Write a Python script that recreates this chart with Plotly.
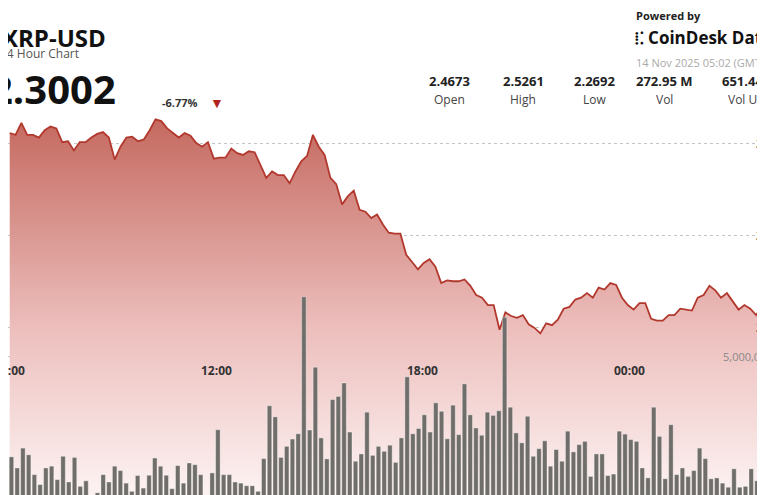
import plotly.graph_objects as go
import pandas as pd

prices = [2.512,2.510,2.523,2.510,2.510,2.507,2.515,2.519,2.517,2.502,2.503,2.493,2.502,2.502,2.507,2.511,2.513,2.507,2.483,2.497,
2.507,2.508,2.503,2.505,2.515,2.527,2.525,2.517,2.512,2.507,2.512,2.509,2.501,2.497,2.502,2.484,2.485,2.485,2.495,2.490,
2.488,2.492,2.491,2.477,2.463,2.470,2.466,2.466,2.457,2.470,2.481,2.487,2.510,2.497,2.488,2.463,2.456,2.434,2.443,2.449,
2.428,2.426,2.419,2.423,2.412,2.403,2.402,2.402,2.379,2.371,2.363,2.370,2.374,2.366,2.348,2.351,2.350,2.350,2.352,2.345,
2.335,2.332,2.324,2.324,2.297,2.316,2.312,2.310,2.313,2.303,2.299,2.293,2.304,2.302,2.308,2.320,2.322,2.330,2.332,2.337,
2.332,2.343,2.341,2.348,2.346,2.332,2.324,2.319,2.326,2.326,2.309,2.307,2.307,2.313,2.313,2.320,2.319,2.318,2.332,2.335,
2.345,2.340,2.332,2.337,2.328,2.319,2.324,2.320,2.313,2.323,2.312,2.313]

volumes_m = [1.58,1.20,1.88,1.65,0.97,0.63,1.20,1.26,0.80,1.60,0.72,1.56,0.57,0.76,0.23,0.35,0.97,0.72,1.26,1.11,
0.68,0.40,0.94,0.51,0.95,1.54,1.26,0.95,0.49,1.28,0.68,1.37,1.31,0.97,0.17,1.03,2.51,0.97,0.97,0.72,
0.68,0.59,0.59,0.40,1.52,3.33,2.95,1.56,1.94,2.19,2.37,7.06,2.50,4.65,2.23,1.51,3.54,3.65,4.11,2.43,
1.43,1.68,3.11,1.63,1.94,1.77,1.98,1.39,2.23,4.32,2.37,2.55,3.02,2.43,3.43,3.14,2.20,3.35,2.34,4.08,
3.02,2.57,2.32,3.11,3.00,3.16,6.36,3.28,2.40,2.06,2.97,1.60,1.86,2.13,1.26,1.83,1.43,2.46,1.75,2.00,
2.11,0.91,1.68,1.68,0.94,0.99,2.46,2.36,2.17,2.11,1.20,0.86,3.28,2.28,0.83,2.68,0.97,1.20,0.91,1.11,
1.88,1.52,0.83,0.86,0.68,0.54,1.17,0.54,0.57,1.17,0.76,0.68,0.54,1.03]
volumes = [v * 1e6 for v in volumes_m]

price_times = pd.date_range("2025-11-13 06:00", "2025-11-14 04:12", periods=len(prices))
vol_times = pd.date_range("2025-11-13 06:03", periods=len(volumes), freq="10min")

price_ticks = [2.3, 2.4, 2.5]
price_tick_text = ["2.30", "2.40", "2.50"]
vol_ticks = [5e6]
vol_tick_text = ["5,000,000"]
time_labels = ["06:00", "12:00", "18:00", "00:00"]
time_label_pos = ["2025-11-13 06:00", "2025-11-13 12:00", "2025-11-13 18:00", "2025-11-14 00:00"]
stat_values = ["2.4673", "2.5261", "2.2692", "272.95 M", "651.44 M"]
stat_labels = ["Open", "High", "Low", "Vol", "Vol USD"]
stat_x = [442, 515, 586, 656, 742]

fig = go.Figure()
fig.add_trace(go.Scatter(
    x=price_times, y=prices, mode="lines", line=dict(color="#b2382e", width=1.8),
    fill="tozeroy",
    fillgradient=dict(type="vertical", start=2.11, stop=2.53,
                      colorscale=[[0, "rgb(253,244,244)"], [0.45, "rgb(236,190,188)"], [1, "rgb(196,104,94)"]]),
    yaxis="y", hoverinfo="skip"))
fig.add_trace(go.Bar(
    x=vol_times, y=volumes, marker=dict(color="rgb(112,110,106)", line=dict(color="rgba(255,255,255,0.6)", width=0.6)),
    yaxis="y2", hoverinfo="skip"))

grid = dict(showgrid=True, gridcolor="rgba(150,150,150,0.55)", griddash="dot", gridwidth=1)
fig.update_layout(
    width=765, height=495, margin=dict(l=0, r=0, t=0, b=0, autoexpand=False),
    paper_bgcolor="white", plot_bgcolor="white", showlegend=False, bargap=0.22,
    font=dict(family="Open Sans", color="#222"),
    xaxis=dict(range=["2025-11-13 05:57", "2025-11-14 04:11"], showticklabels=False, showgrid=False,
               zeroline=False, domain=[0, 1]),
    yaxis=dict(range=[2.1077, 2.6486], tickvals=price_ticks, showticklabels=False, zeroline=False, **grid),
    yaxis2=dict(range=[0, 16.95e6], overlaying="y", tickvals=vol_ticks, showticklabels=False,
                zeroline=False, **grid),
)

ann = []
def add(text, x, y, size, color="#222", xanchor="left"):
    ann.append(dict(text=text, x=x, y=y, xref="paper", yref="paper", showarrow=False,
                    xanchor=xanchor, yanchor="middle", font=dict(size=size, color=color)))
W, H = 765.0, 495.0
add("<b>XRP-USD</b>", -8/W, 1-29/H, 24, "#111")
add("24 Hour Chart", -10/W, 1-45/H, 12, "#555")
add("<b>2.3002</b>", -20/W, 1-81/H, 40, "#111")
add("<b>-6.77%</b>", 152/W, 1-94/H, 11, "#333")
add("▼", 200/W, 1-94/H, 14, "#b2231e")
for v, l, x in zip(stat_values, stat_labels, stat_x):
    add("<b>" + v + "</b>", x/W, 1-73/H, 13, "#222", "center")
    add(l, x/W, 1-92/H, 12, "#444", "center")
add("<b>Powered by</b>", 626/W, 1-8/H, 11, "#222")
add("<b>⁞⁚ CoinDesk Data</b>", 624/W, 1-30/H, 17, "#111")
add("14 Nov 2025 05:02 (GMT)", 626/W, 1-54/H, 11, "#aaa")
for lab, pos in zip(time_labels, time_label_pos):
    ann.append(dict(text="<b>" + lab + "</b>", x=pos, y=1-362/H, xref="x", yref="paper", showarrow=False,
                    xanchor="center", yanchor="middle", font=dict(size=12, color="#333")))
for v, t in zip(price_ticks, price_tick_text):
    ann.append(dict(text="<b>" + t + "</b>", x=746/W, y=v, xref="paper", yref="y", showarrow=False,
                    xanchor="left", yanchor="middle", font=dict(size=12, color="#333")))
for v, t in zip(vol_ticks, vol_tick_text):
    ann.append(dict(text=t, x=713/W, y=v, xref="paper", yref="y2", showarrow=False,
                    xanchor="left", yanchor="middle", font=dict(size=11, color="#888")))
fig.update_layout(annotations=ann)
fig.write_html("out.html")
